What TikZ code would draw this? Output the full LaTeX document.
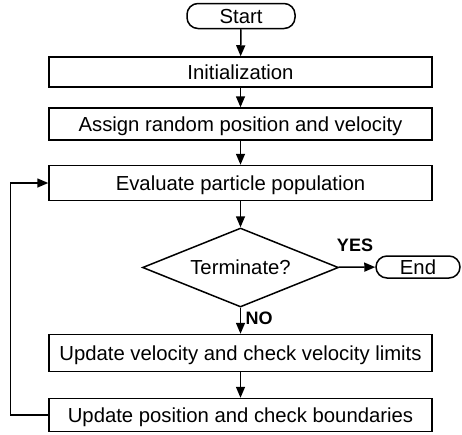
\documentclass[tikz,border=0pt]{standalone}
\usepackage{fontspec}
\setmainfont{Liberation Sans}
\usepackage{tikz}
\usetikzlibrary{shapes.geometric, arrows.meta, positioning}
\tikzset{
    stepbox/.style={rectangle, draw, line width=1.5pt, minimum width=383pt, inner sep=0pt, text height=14.6pt, text depth=0pt, font=\fontsize{20.3}{24}\selectfont},
    terminal/.style={rectangle, rounded corners=11pt, draw, line width=1.5pt, inner sep=0pt, text height=14.6pt, text depth=0pt, font=\fontsize{20.3}{24}\selectfont},
    decision/.style={diamond, aspect=2.5, draw, line width=1.5pt, inner sep=0pt, minimum width=196pt, minimum height=79pt, text height=14.6pt, text depth=0pt, font=\fontsize{20.3}{24}\selectfont},
    answer/.style={inner sep=0pt, font=\fontsize{18}{20}\selectfont\bfseries},
    flow/.style={-{Triangle[length=11pt, width=9pt]}, line width=1.5pt}
}

\begin{document}
\begin{tikzpicture}[x=1pt, y=-1pt]
    \useasboundingbox (0,0) rectangle (462,434);

    % Start and setup
    \node[terminal, minimum width=108pt, minimum height=25pt] (start) at (241,16) {Start};
    \node[stepbox, minimum height=30pt] (init) at (240.5,72) {Initialization};
    \node[stepbox, minimum height=32pt] (assign) at (240.5,124) {Assign random position and velocity};
    \node[stepbox, minimum height=35pt] (eval) at (240.5,183) {Evaluate particle population};

    % Stop test
    \node[decision] (term) at (240.5,267.5) {Terminate?};
    \node[terminal, minimum width=84pt, minimum height=22pt] (stop) at (418,267) {End};
    \node[answer] (yes) at (355,245) {YES};
    \node[answer] (no) at (259,318) {NO};

    % Particle updates
    \node[stepbox, minimum height=37pt] (velocity) at (240.5,353) {Update velocity and check velocity limits};
    \node[stepbox, minimum height=33pt] (position) at (240.5,415) {Update position and check boundaries};

    % Connections
    \draw[flow] (start) -- (init);
    \draw[flow] (init) -- (assign);
    \draw[flow] (assign) -- (eval);
    \draw[flow] (eval) -- (term);
    \draw[flow] (term) -- (stop);
    \draw[flow] (term) -- (velocity);
    \draw[flow] (velocity) -- (position);
    \draw[flow] (position.west) -- ++(-38,0) |- (eval.west);
\end{tikzpicture}
\end{document}
